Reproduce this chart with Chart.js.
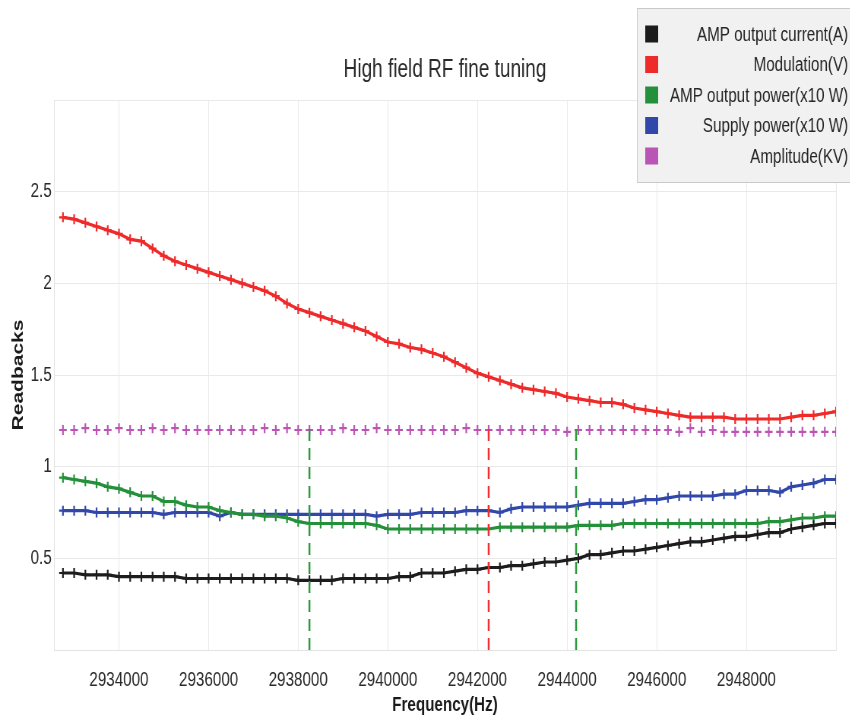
<!DOCTYPE html>
<html><head><meta charset="utf-8">
<script src="https://cdn.jsdelivr.net/npm/chart.js@4.4.1/dist/chart.umd.min.js"></script>
<style>
html,body{margin:0;padding:0;background:#fff;overflow:hidden;width:850px;height:715px;}
#wrap{position:absolute;left:0;top:0;width:1118px;height:715px;transform:scaleX(0.76);transform-origin:0 0;}
</style></head><body>
<div id="wrap"><canvas id="c"></canvas></div>
<script>
const frequencies = [
 2932750,2933000,2933250,2933500,2933750,2934000,2934250,2934500,2934750,2935000,
 2935250,2935500,2935750,2936000,2936250,2936500,2936750,2937000,2937250,2937500,
 2937750,2938000,2938250,2938500,2938750,2939000,2939250,2939500,2939750,2940000,
 2940250,2940500,2940750,2941000,2941250,2941500,2941750,2942000,2942250,2942500,
 2942750,2943000,2943250,2943500,2943750,2944000,2944250,2944500,2944750,2945000,
 2945250,2945500,2945750,2946000,2946250,2946500,2946750,2947000,2947250,2947500,
 2947750,2948000,2948250,2948500,2948750,2949000,2949250,2949500,2949750,2950000];

const ampCurrent = [
 0.42,0.42,0.41,0.41,0.41,0.40,0.40,0.40,0.40,0.40,
 0.40,0.39,0.39,0.39,0.39,0.39,0.39,0.39,0.39,0.39,
 0.39,0.38,0.38,0.38,0.38,0.39,0.39,0.39,0.39,0.39,
 0.40,0.40,0.42,0.42,0.42,0.43,0.44,0.44,0.45,0.45,
 0.46,0.46,0.47,0.48,0.48,0.49,0.50,0.52,0.52,0.53,
 0.54,0.54,0.55,0.56,0.57,0.58,0.59,0.59,0.60,0.61,
 0.62,0.62,0.63,0.64,0.64,0.66,0.67,0.68,0.69,0.69];

const modulation = [
 2.36,2.35,2.33,2.31,2.29,2.27,2.24,2.23,2.19,2.15,
 2.12,2.10,2.08,2.06,2.04,2.02,2.00,1.98,1.96,1.93,
 1.89,1.86,1.84,1.82,1.80,1.78,1.76,1.74,1.71,1.68,
 1.67,1.65,1.64,1.62,1.60,1.57,1.54,1.51,1.49,1.47,
 1.45,1.43,1.42,1.41,1.40,1.38,1.37,1.36,1.35,1.35,
 1.34,1.32,1.31,1.30,1.29,1.28,1.27,1.27,1.27,1.27,
 1.26,1.26,1.26,1.26,1.26,1.27,1.28,1.28,1.29,1.30];

const ampPower = [
 0.94,0.93,0.92,0.91,0.89,0.88,0.86,0.84,0.84,0.81,
 0.81,0.79,0.78,0.78,0.76,0.75,0.74,0.74,0.73,0.73,
 0.72,0.70,0.69,0.69,0.69,0.69,0.69,0.69,0.68,0.66,
 0.66,0.66,0.66,0.66,0.66,0.66,0.66,0.66,0.66,0.67,
 0.67,0.67,0.67,0.67,0.67,0.67,0.68,0.68,0.68,0.68,
 0.69,0.69,0.69,0.69,0.69,0.69,0.69,0.69,0.69,0.69,
 0.69,0.69,0.69,0.70,0.70,0.71,0.72,0.72,0.73,0.73];

const supplyPower = [
 0.76,0.76,0.76,0.75,0.75,0.75,0.75,0.75,0.75,0.74,
 0.75,0.75,0.75,0.75,0.73,0.75,0.74,0.74,0.74,0.74,
 0.74,0.74,0.74,0.74,0.74,0.74,0.74,0.74,0.73,0.74,
 0.74,0.74,0.75,0.75,0.75,0.75,0.76,0.76,0.76,0.75,
 0.77,0.78,0.78,0.78,0.78,0.78,0.79,0.80,0.80,0.80,
 0.80,0.81,0.82,0.82,0.83,0.84,0.84,0.84,0.84,0.85,
 0.85,0.87,0.87,0.87,0.86,0.89,0.90,0.91,0.93,0.93];

const amplitude = [
 1.20,1.20,1.21,1.20,1.20,1.21,1.20,1.20,1.21,1.20,
 1.21,1.20,1.20,1.20,1.20,1.20,1.20,1.20,1.21,1.20,
 1.21,1.20,1.20,1.20,1.20,1.21,1.20,1.20,1.21,1.20,
 1.20,1.20,1.20,1.20,1.20,1.20,1.21,1.20,1.20,1.20,
 1.20,1.20,1.20,1.20,1.20,1.19,1.20,1.20,1.20,1.20,
 1.20,1.20,1.20,1.20,1.20,1.19,1.21,1.19,1.20,1.19,
 1.19,1.19,1.19,1.19,1.19,1.19,1.19,1.19,1.19,1.19];

const markerFreqs = [2938250, 2942250, 2944200];
const markerTop = 1.21;
const xTickValues = [2934000,2936000,2938000,2940000,2942000,2944000,2946000,2948000];
const yTickValues = [0.5,1,1.5,2,2.5];

const FONT = "'Liberation Sans', Arial, sans-serif";
Chart.defaults.font.family = FONT;

const seriesDefs = [
 {label:'AMP output current(A)', values:ampCurrent, color:'#1c1c1c', line:true},
 {label:'Modulation(V)', values:modulation, color:'#ee2a2a', line:true},
 {label:'AMP output power(x10 W)', values:ampPower, color:'#25903a', line:true},
 {label:'Supply power(x10 W)', values:supplyPower, color:'#3148aa', line:true},
 {label:'Amplitude(KV)', values:amplitude, color:'#bb55b5', line:false}
];
const markerColors = ['#2a9a3a','#ee3030','#2a9a3a'];

const datasets = seriesDefs.map((s,k)=>({
 label:s.label,
 data: frequencies.map((f,i)=>({x:f,y:s.values[i]})),
 borderColor:s.color, backgroundColor:s.color,
 borderWidth:3.2, showLine:s.line,
 pointStyle:'cross', pointRadius:s.line?5:5, pointBorderWidth:2.2,
 pointBorderColor:s.color, tension:0, order:2+k
}));
markerFreqs.forEach((f,k)=>{
 datasets.push({label:'', data:[{x:f,y:0},{x:f,y:markerTop}], borderColor:markerColors[k],
   borderWidth:2.5, borderDash:[12,7], pointRadius:0, showLine:true, order:0, isMarker:true});
});

const legendPlugin = {
 id:'customLegend',
 afterDraw(chart){
  const ctx = chart.ctx;
  ctx.save();
  ctx.fillStyle = '#f1f1f1';
  ctx.strokeStyle = '#c9c9c9';
  ctx.lineWidth = 1;
  ctx.fillRect(838.5, 8.5, 300, 174);
  ctx.strokeRect(838.5, 8.5, 300, 174);
  const rows = [34, 64.5, 95, 125.5, 156];
  ctx.font = "20px " + FONT;
  ctx.textAlign = 'right';
  ctx.textBaseline = 'middle';
  seriesDefs.forEach((s,k)=>{
    ctx.fillStyle = s.color;
    ctx.fillRect(849, rows[k]-8.5, 17, 17);
    ctx.fillStyle = '#262626';
    ctx.fillText(s.label, 1116, rows[k]+1);
  });
  ctx.restore();
 }
};

new Chart(document.getElementById('c'), {
 type:'scatter',
 data:{datasets},
 plugins:[legendPlugin],
 options:{
  responsive:true, maintainAspectRatio:false, animation:false, devicePixelRatio:1,
  layout:{padding:{left:0,right:14,top:0,bottom:0}},
  plugins:{
   legend:{display:false}, tooltip:{enabled:false},
   title:{display:true, text:'High field RF fine tuning', fullSize:false, color:'#2a2a2a',
     font:{size:25, weight:'normal', lineHeight:1.2}, padding:{top:55,bottom:15}}
  },
  scales:{
   x:{type:'linear', min:2932550, max:2950000,
     afterBuildTicks:(s)=>{ s.ticks = xTickValues.concat([2950000]).map(v=>({value:v})); },
     ticks:{callback:(v)=> xTickValues.includes(v)? String(v) : '', autoSkip:false, maxRotation:0, minRotation:0,
       padding:18, color:'#2a2a2a', font:{size:20}},
     grid:{color:'#e9e9e9', drawTicks:false, lineWidth:1},
     border:{display:true, color:'#e3e3e3'},
     title:{display:true, text:'Frequency(Hz)', color:'#1a1a1a', font:{size:20, weight:'bold', lineHeight:1}, padding:{top:0,bottom:0}},
     afterFit:(s)=>{ s.height = 65; }
   },
   y:{type:'linear', min:0, max:3,
     afterBuildTicks:(s)=>{ s.ticks = [0,0.5,1,1.5,2,2.5,3].map(v=>({value:v})); },
     ticks:{callback:(v)=> yTickValues.includes(v)? String(v) : '', padding:3, color:'#2a2a2a', font:{size:20}},
     grid:{color:'#e9e9e9', drawTicks:false, lineWidth:1},
     border:{display:true, color:'#e3e3e3'},
     title:{display:true, text:'Readbacks', color:'#1a1a1a', font:{size:21, weight:'bold', lineHeight:1.2}, padding:{top:12,bottom:0}},
     afterFit:(s)=>{ s.width = 71; }
   }
  }
 }
});
</script></body></html>
